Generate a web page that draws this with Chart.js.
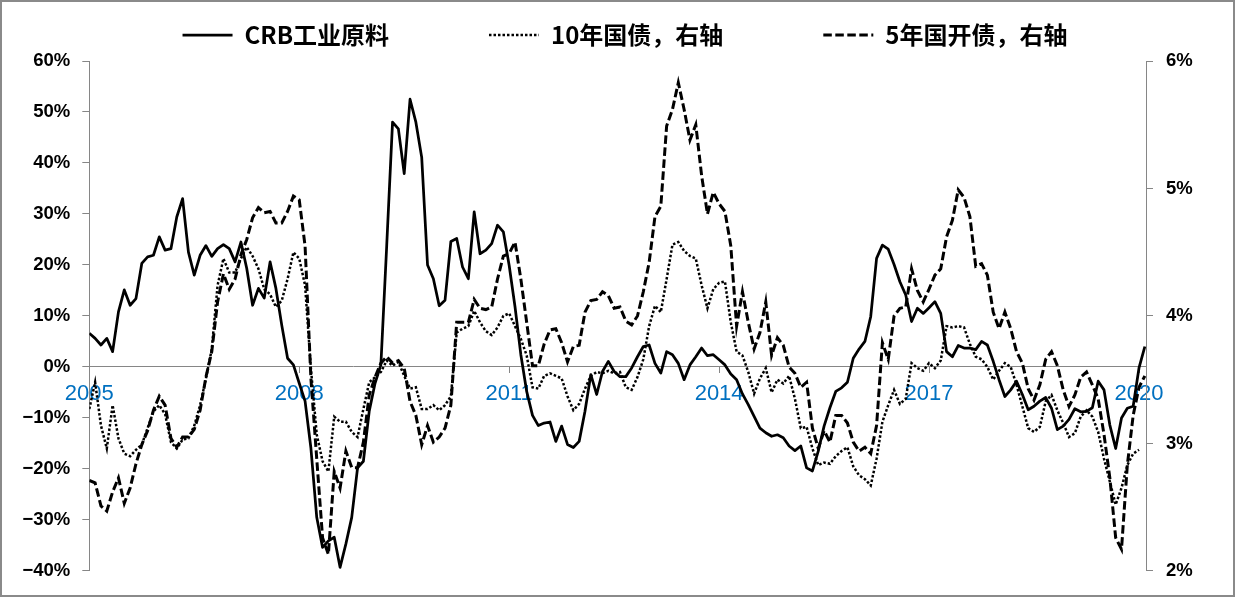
<!DOCTYPE html>
<html>
<head>
<meta charset="utf-8">
<script src="https://cdn.jsdelivr.net/npm/chart.js@4.4.1/dist/chart.umd.min.js"></script>
<style>
html,body{margin:0;padding:0;background:#fff;}
#wrap{width:1235px;height:597px;box-sizing:border-box;border:2px solid #8a8a8a;background:#fff;}
canvas{display:block;}
</style>
</head>
<body>
<div id="wrap"><canvas id="c" width="1231" height="593"></canvas></div>
<script>
// Monthly observations, Jan 2005 .. Feb 2020
const startYear = 2005;

// CRB 工业原料 (左轴, %)
const crb = [
  6.6, 5.6, 4.3, 5.6, 3.0, 10.8, 15.1, 12.1, 13.4, 20.3, 21.6, 21.9,
  25.5, 22.9, 23.2, 29.4, 33.0, 22.5, 18.0, 21.9, 23.8, 21.7, 23.2, 24.0,
  23.2, 20.6, 24.5, 19.3, 12.1, 15.4, 13.5, 20.6, 15.4, 8.2, 1.7, 0.4,
  -3.2, -6.7, -15.9, -29.5, -35.4, -34.1, -33.4, -39.3, -34.7, -29.5, -19.8, -18.5,
  -8.7, -3.2, 0.4, 23.8, 48.0, 46.7, 37.9, 52.5, 48.0, 41.1, 20.0, 17.3,
  12.0, 13.1, 24.6, 25.2, 19.6, 17.3, 30.4, 22.2, 22.9, 24.2, 27.8, 26.5,
  19.9, 11.8, 2.4, -4.8, -9.5, -11.5, -11.0, -10.8, -14.6, -11.6, -15.2, -15.8,
  -14.6, -8.7, -1.5, -5.4, -0.9, 1.1, -0.9, -1.9, -1.9, -0.2, 2.0, 4.0,
  4.3, 0.7, -1.2, 3.0, 2.4, 0.7, -2.5, 0.4, 2.0, 3.7, 2.2, 2.4,
  1.4, 0.4, -1.4, -2.5, -5.3, -7.4, -9.7, -12.0, -12.9, -13.6, -13.3, -13.9,
  -15.5, -16.4, -15.5, -19.8, -20.4, -16.5, -11.6, -8.0, -4.8, -4.1, -3.0, 1.7,
  3.5, 5.0, 9.9, 21.3, 23.9, 23.1, 20.1, 16.7, 14.1, 8.9, 11.5, 10.5,
  11.6, 12.8, 10.5, 3.0, 2.0, 4.2, 3.7, 3.7, 3.4, 5.0, 4.3, 1.1,
  -2.5, -5.8, -4.5, -2.8, -5.4, -8.4, -7.7, -6.7, -6.0, -8.1, -12.3, -11.6,
  -10.3, -8.2, -8.8, -8.7, -8.0, -2.8, -4.5, -11.4, -16.0, -10.0, -8.1, -7.7,
  -0.2, 4.0
];

// 10年国债 (右轴, %)
const cgb10 = [
  3.27, 3.48, 3.14, 2.96, 3.30, 3.04, 2.92, 2.90, 2.95, 2.99, 3.12, 3.25,
  3.30, 3.23, 3.01, 2.96, 3.03, 3.04, 3.14, 3.30, 3.51, 3.74, 4.24, 4.45,
  4.34, 4.34, 4.45, 4.54, 4.47, 4.37, 4.21, 4.17, 4.07, 4.12, 4.29, 4.50,
  4.45, 4.24, 3.59, 3.07, 2.86, 2.78, 3.21, 3.17, 3.17, 3.09, 3.05, 3.27,
  3.48, 3.52, 3.56, 3.65, 3.61, 3.64, 3.53, 3.43, 3.44, 3.27, 3.27, 3.30,
  3.26, 3.30, 3.37, 3.87, 3.90, 3.92, 4.04, 3.95, 3.88, 3.85, 3.91, 4.00,
  4.02, 3.92, 3.82, 3.69, 3.44, 3.43, 3.53, 3.55, 3.53, 3.51, 3.37, 3.26,
  3.31, 3.43, 3.53, 3.56, 3.55, 3.57, 3.55, 3.56, 3.44, 3.42, 3.52, 3.66,
  3.92, 4.08, 4.03, 4.29, 4.56, 4.58, 4.51, 4.47, 4.45, 4.24, 4.06, 4.21,
  4.26, 4.27, 3.95, 3.72, 3.69, 3.56, 3.39, 3.51, 3.59, 3.40, 3.50, 3.47,
  3.53, 3.35, 3.12, 3.13, 2.96, 2.83, 2.85, 2.84, 2.90, 2.94, 2.97, 2.82,
  2.75, 2.72, 2.67, 2.88, 3.17, 3.30, 3.42, 3.31, 3.35, 3.63, 3.59, 3.57,
  3.63, 3.59, 3.65, 3.92, 3.91, 3.92, 3.91, 3.78, 3.68, 3.66, 3.60, 3.50,
  3.57, 3.63, 3.60, 3.46, 3.29, 3.12, 3.09, 3.13, 3.33, 3.38, 3.26, 3.16,
  3.05, 3.08, 3.21, 3.26, 3.21, 3.09, 2.88, 2.70, 2.52, 2.65, 2.83, 2.92,
  2.95, null
];

// 5年国开债 (右轴, %)
const cdb5 = [
  2.71, 2.69, 2.51, 2.47, 2.62, 2.73, 2.53, 2.65, 2.84, 2.99, 3.10, 3.26,
  3.37, 3.30, 3.04, 2.97, 3.05, 3.05, 3.11, 3.26, 3.52, 3.72, 4.11, 4.33,
  4.21, 4.29, 4.48, 4.60, 4.77, 4.85, 4.81, 4.82, 4.73, 4.73, 4.82, 4.94,
  4.91, 4.55, 3.51, 2.88, 2.26, 2.13, 2.78, 2.65, 2.94, 2.81, 2.81, 3.01,
  3.38, 3.52, 3.63, 3.68, 3.63, 3.65, 3.59, 3.33, 3.22, 2.99, 3.14, 3.01,
  3.05, 3.12, 3.30, 3.95, 3.95, 3.95, 4.13, 4.06, 4.05, 4.07, 4.29, 4.47,
  4.49, 4.58, 4.29, 3.95, 3.61, 3.61, 3.78, 3.89, 3.90, 3.79, 3.64, 3.76,
  3.77, 4.03, 4.12, 4.13, 4.19, 4.16, 4.06, 4.07, 3.96, 3.93, 4.00, 4.19,
  4.42, 4.78, 4.86, 5.49, 5.62, 5.83, 5.62, 5.38, 5.50, 5.10, 4.80, 4.97,
  4.88, 4.82, 4.55, 3.92, 4.19, 3.95, 3.74, 3.87, 4.11, 3.69, 3.83, 3.77,
  3.60, 3.55, 3.44, 3.48, 3.12, 2.96, 3.10, 3.01, 3.22, 3.22, 3.16, 3.01,
  2.94, 2.97, 2.92, 3.14, 3.79, 3.66, 4.00, 4.06, 4.07, 4.37, 4.20, 4.11,
  4.21, 4.32, 4.37, 4.62, 4.75, 4.99, 4.93, 4.78, 4.39, 4.41, 4.32, 4.03,
  3.90, 4.03, 3.90, 3.72, 3.63, 3.43, 3.34, 3.46, 3.66, 3.72, 3.61, 3.42,
  3.29, 3.38, 3.52, 3.56, 3.46, 3.35, 3.07, 2.73, 2.26, 2.17, 2.83, 3.22,
  3.44, 3.53
];

const seriesNames = ['CRB工业原料', '10年国债，右轴', '5年国开债，右轴'];
const yearTicks = [2005, 2008, 2011, 2014, 2017, 2020];

const monthPos = crb.map((_, i) => startYear + i / 12);
const toPoints = arr => arr.map((v, i) => ({ x: monthPos[i], y: v }));

const axisGray = '#868686';
const latinFont = '"Liberation Sans", Arial, sans-serif';

new Chart(document.getElementById('c'), {
  type: 'line',
  data: {
    datasets: [
      { label: seriesNames[0], data: toPoints(crb), yAxisID: 'y',
        borderColor: '#000', backgroundColor: '#000', borderWidth: 2.75,
        borderJoinStyle: 'round', pointRadius: 0, tension: 0 },
      { label: seriesNames[1], data: toPoints(cgb10), yAxisID: 'y1',
        borderColor: '#000', backgroundColor: '#000', borderWidth: 2.5,
        borderDash: [2.5, 2], pointRadius: 0, tension: 0 },
      { label: seriesNames[2], data: toPoints(cdb5), yAxisID: 'y1',
        borderColor: '#000', backgroundColor: '#000', borderWidth: 3,
        borderDash: [8.5, 3.5], pointRadius: 0, tension: 0 }
    ]
  },
  options: {
    responsive: false,
    animation: false,
    events: [],
    layout: { padding: { top: -79, bottom: 22, left: 15, right: 0 } },
    plugins: {
      legend: {
        position: 'top',
        align: 'center',
        labels: {
          usePointStyle: true,
          pointStyle: 'line',
          pointStyleWidth: 50,
          padding: 100,
          color: '#000',
          font: { family: '"Noto Sans CJK SC", "Noto Sans", sans-serif', size: 24, weight: 'bold' },
          generateLabels: chart => {
            const items = Chart.defaults.plugins.legend.labels.generateLabels(chart);
            items.forEach((it, i) => {
              const ds = chart.data.datasets[i];
              it.lineDash = ds.borderDash || [];
              it.lineWidth = ds.borderWidth;
              it.strokeStyle = ds.borderColor;
              it.fillStyle = ds.borderColor;
              it.lineCap = 'butt';
              it.pointStyle = 'line';
            });
            return items;
          }
        }
      },
      tooltip: { enabled: false }
    },
    scales: {
      x: {
        type: 'linear',
        position: { y: 0 },
        min: 2005,
        max: 2020.1,
        afterBuildTicks: s => { s.ticks = yearTicks.map(v => ({ value: v })); },
        ticks: {
          color: '#0070C0',
          font: { family: latinFont, size: 22 },
          padding: 8,
          maxRotation: 0,
          autoSkip: false,
          callback: v => String(v)
        },
        grid: { drawOnChartArea: false, drawTicks: true, tickLength: 6, color: axisGray },
        border: { display: true, color: axisGray, width: 1 }
      },
      xTop: {
        type: 'linear',
        position: 'top',
        display: true,
        ticks: { display: false },
        grid: { display: false },
        border: { display: false },
        afterFit: s => { s.height = 4; }
      },
      y: {
        position: 'left',
        min: -40,
        max: 60,
        ticks: {
          stepSize: 10,
          color: '#000',
          padding: 12,
          font: { family: latinFont, size: 18.5, weight: 'bold' },
          callback: v => (v < 0 ? '\u2212' : '') + Math.abs(v) + '%'
        },
        grid: { drawOnChartArea: false, drawTicks: true, tickLength: 7, color: axisGray },
        border: { display: true, color: axisGray, width: 1 },
        afterFit: s => { s.width = 72.3; }
      },
      y1: {
        position: 'right',
        min: 2,
        max: 6,
        ticks: {
          stepSize: 1,
          color: '#000',
          padding: 13,
          font: { family: latinFont, size: 18.5, weight: 'bold' },
          callback: v => v + '%'
        },
        grid: { drawOnChartArea: false, drawTicks: true, tickLength: 7, color: axisGray },
        border: { display: true, color: axisGray, width: 1 },
        afterFit: s => { s.width = 87; }
      }
    }
  }
});
</script>
</body>
</html>
